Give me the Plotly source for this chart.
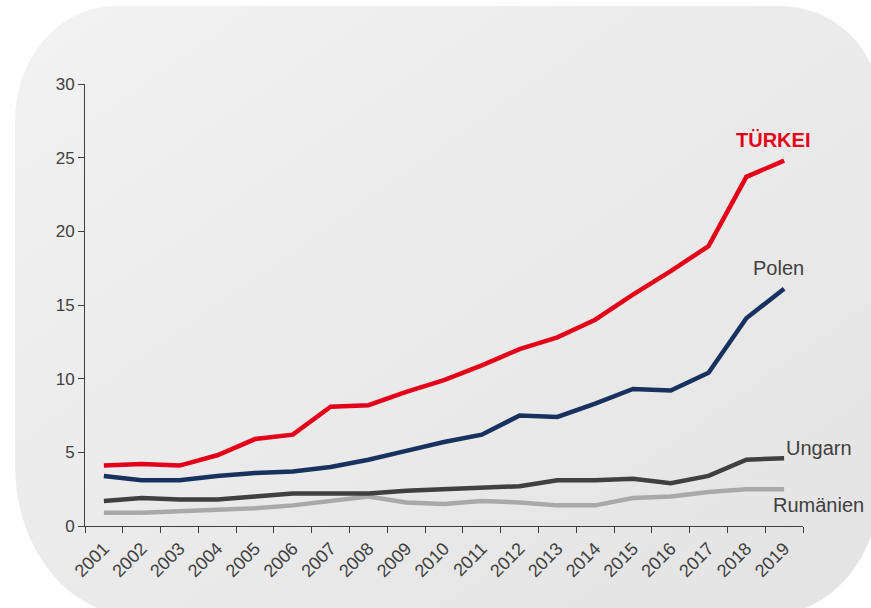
import base64
import plotly.graph_objects as go

years = [str(y) for y in range(2001, 2020)]
tuerkei = [4.1, 4.2, 4.1, 4.8, 5.9, 6.2, 8.1, 8.2, 9.1, 9.9, 10.9, 12.0, 12.8, 14.0, 15.7, 17.3, 19.0, 23.7, 24.8]
polen = [3.4, 3.1, 3.1, 3.4, 3.6, 3.7, 4.0, 4.5, 5.1, 5.7, 6.2, 7.5, 7.4, 8.3, 9.3, 9.2, 10.4, 14.1, 16.1]
ungarn = [1.7, 1.9, 1.8, 1.8, 2.0, 2.2, 2.2, 2.2, 2.4, 2.5, 2.6, 2.7, 3.1, 3.1, 3.2, 2.9, 3.4, 4.5, 4.6]
rumaenien = [0.9, 0.9, 1.0, 1.1, 1.2, 1.4, 1.7, 2.0, 1.6, 1.5, 1.7, 1.6, 1.4, 1.4, 1.9, 2.0, 2.3, 2.5, 2.5]
y_ticks = [0, 5, 10, 15, 20, 25, 30]

W, H = 871, 608
ML, MR, MT, MB = 85, 68, 84, 82
PW, PH = W - ML - MR, H - MT - MB

# rounded background panel (decoration), drawn as an SVG image with a soft gradient
l, t, r, b = 15, 6, 880, 615
tl, tr, br, bl = (100, 115), (100, 100), (110, 130), (118, 150)
path = (f"M {l + tl[0]},{t} H {r - tr[0]} A {tr[0]} {tr[1]} 0 0 1 {r},{t + tr[1]} "
        f"V {b - br[1]} A {br[0]} {br[1]} 0 0 1 {r - br[0]},{b} "
        f"H {l + bl[0]} A {bl[0]} {bl[1]} 0 0 1 {l},{b - bl[1]} "
        f"V {t + tl[1]} A {tl[0]} {tl[1]} 0 0 1 {l + tl[0]},{t} Z")
svg = (f'<svg xmlns="http://www.w3.org/2000/svg" width="{W}" height="{H}" viewBox="0 0 {W} {H}" '
       f'preserveAspectRatio="none">'
       '<defs><linearGradient id="g" x1="0" y1="0" x2="1" y2="1">'
       '<stop offset="0" stop-color="#f2f2f2"/><stop offset="1" stop-color="#e3e3e3"/>'
       '</linearGradient></defs>'
       f'<path d="{path}" fill="url(#g)"/></svg>')
svg_uri = "data:image/svg+xml;base64," + base64.b64encode(svg.encode()).decode()

fig = go.Figure()

series = [
    (rumaenien, "Rumänien", "#a9a9a9"),
    (ungarn, "Ungarn", "#404040"),
    (polen, "Polen", "#17325f"),
    (tuerkei, "Türkei", "#e2001a"),
]
for vals, name, color in series:
    fig.add_trace(go.Scatter(x=years, y=vals, name=name, mode="lines",
                             line=dict(color=color, width=4.5),
                             hoverinfo="skip"))

fig.add_layout_image(dict(source=svg_uri, xref="paper", yref="paper",
                          x=-ML / PW, y=1 + MT / PH, sizex=W / PW, sizey=H / PH,
                          xanchor="left", yanchor="top", sizing="stretch", layer="below"))

fam = "Liberation Sans, Arial, sans-serif"
lbl_font = dict(family=fam, size=20, color="#404040")
fig.add_annotation(x=17.7, y=26.2, xref="x", yref="y", text="<b>TÜRKEI</b>", showarrow=False,
                   font=dict(family=fam, size=20, color="#e2001a"))
fig.add_annotation(x=17.85, y=17.5, xref="x", yref="y", text="Polen", showarrow=False, font=lbl_font)
fig.add_annotation(x=18.0, y=5.3, xref="x", yref="y", text="Ungarn", showarrow=False,
                   xanchor="left", font=lbl_font)
fig.add_annotation(x=17.65, y=1.4, xref="x", yref="y", text="Rumänien", showarrow=False,
                   xanchor="left", font=lbl_font)

fig.update_layout(
    width=W, height=H,
    margin=dict(l=ML, r=MR, t=MT, b=MB),
    paper_bgcolor="white",
    plot_bgcolor="rgba(0,0,0,0)",
    showlegend=False,
    font=dict(family=fam, color="#404040"),
)
fig.update_xaxes(
    type="category", range=[-0.5, 18.5], tickangle=-45,
    tickson="boundaries", ticks="outside", ticklen=6, tickcolor="#404040",
    showline=True, linecolor="#404040", linewidth=1,
    showgrid=False, zeroline=False, ticklabelstandoff=4,
    tickfont=dict(size=18, color="#404040"),
)
fig.update_yaxes(
    range=[0, 30], tickvals=y_ticks, ticks="outside", ticklen=6, tickcolor="#404040",
    showline=True, linecolor="#404040", linewidth=1,
    showgrid=False, zeroline=False,
    tickfont=dict(size=17, color="#404040"),
)

fig.write_html("out.html", config={"displayModeBar": False},
               post_script="document.body.style.margin='0';")
